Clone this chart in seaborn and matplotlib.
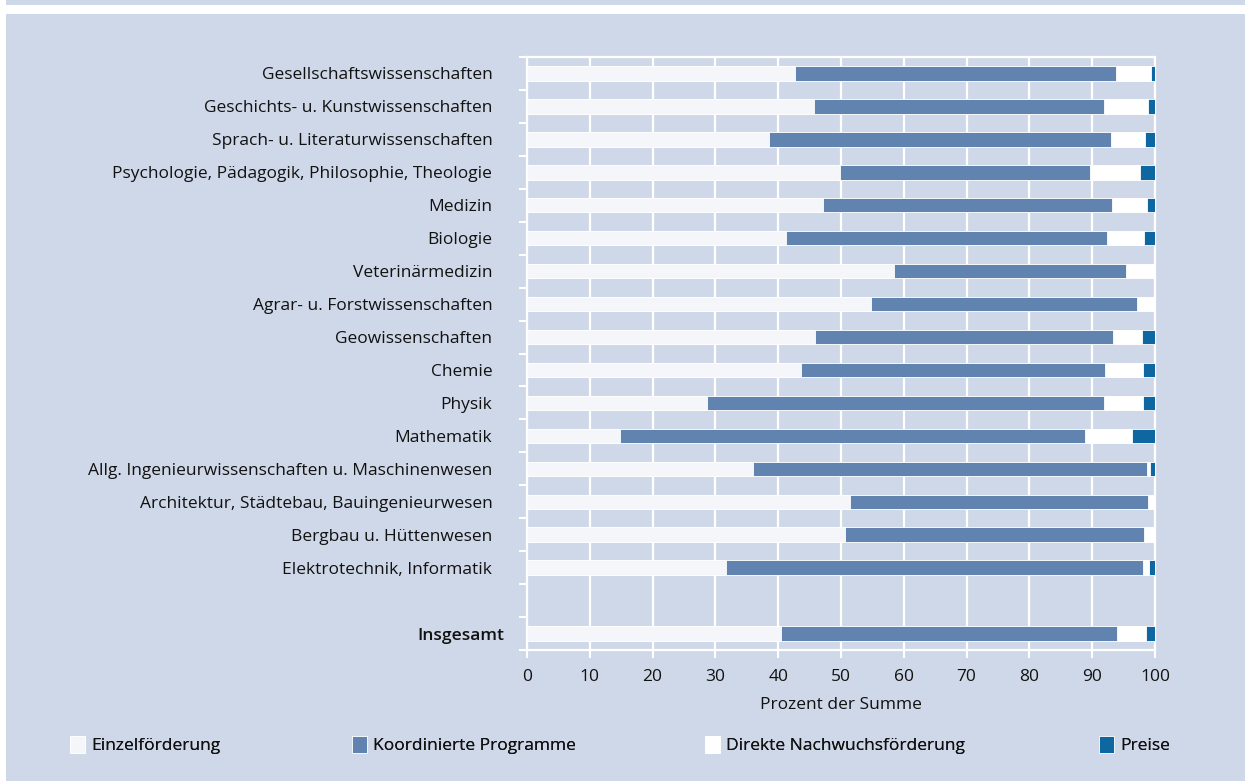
import numpy as np
import pandas as pd
import matplotlib
matplotlib.use("Agg")
import matplotlib.pyplot as plt
import matplotlib.transforms as mtransforms
import seaborn as sns
from matplotlib.patches import Rectangle, Patch

categories = [
    "Gesellschaftswissenschaften",
    "Geschichts- u. Kunstwissenschaften",
    "Sprach- u. Literaturwissenschaften",
    "Psychologie, Pädagogik, Philosophie, Theologie",
    "Medizin",
    "Biologie",
    "Veterinärmedizin",
    "Agrar- u. Forstwissenschaften",
    "Geowissenschaften",
    "Chemie",
    "Physik",
    "Mathematik",
    "Allg. Ingenieurwissenschaften u. Maschinenwesen",
    "Architektur, Städtebau, Bauingenieurwesen",
    "Bergbau u. Hüttenwesen",
    "Elektrotechnik, Informatik",
    "Insgesamt",
]
einzel = [42.7, 45.7, 38.6, 49.8, 47.1, 41.3, 58.4, 54.7, 45.9, 43.6, 28.6, 14.8, 36.0, 51.5, 50.6, 31.7, 40.5]
koord = [51.1, 46.1, 54.4, 39.9, 46.1, 51.0, 37.0, 42.5, 47.4, 48.4, 63.2, 74.1, 62.7, 47.4, 47.7, 66.4, 53.4]
preise = [0.7, 1.1, 1.6, 2.4, 1.2, 1.7, 0.0, 0.0, 2.1, 1.9, 1.9, 3.6, 0.8, 0.0, 0.0, 0.9, 1.4]
nachwuchs = [100 - e - k - p for e, k, p in zip(einzel, koord, preise)]
series_names = ["Einzelförderung", "Koordinierte Programme", "Direkte Nachwuchsförderung", "Preise"]
xticks = [0, 10, 20, 30, 40, 50, 60, 70, 80, 90, 100]

colors = ["#f5f6fa", "#6083af", "#ffffff", "#0e67a0"]
bg = "#cfd8e8"
txt = "#111111"
fs = 12.5

df = pd.DataFrame({"cat": categories, "E": einzel, "K": koord, "N": nachwuchs, "P": preise})
df["c1"] = df["E"]
df["c2"] = df["E"] + df["K"]
df["c3"] = df["c2"] + df["N"]
df["c4"] = df["c3"] + df["P"]

order = categories[:-1] + [" "] + categories[-1:]

sns.set_theme(style="white")
plt.rcParams["font.family"] = ["Open Sans", "DejaVu Sans"]

fig = plt.figure(figsize=(12.45, 7.81), dpi=100)
fig.patch.set_facecolor("white")
fig.patches.append(Rectangle((6 / 1245, 0), 1 - 6 / 1245, 1 - 14 / 781, transform=fig.transFigure,
                             facecolor=bg, edgecolor="none", zorder=-10))
fig.patches.append(Rectangle((6 / 1245, 1 - 5 / 781), 1 - 6 / 1245, 5 / 781, transform=fig.transFigure,
                             facecolor=bg, edgecolor="none", zorder=-10))

ax = fig.add_axes([527 / 1245, 1 - 650 / 781, (1155 - 527) / 1245, (650 - 57) / 781])
ax.set_facecolor(bg)

w = 0.44
for col, c in zip(["c4", "c3", "c2", "c1"], [colors[3], colors[2], colors[1], colors[0]]):
    sns.barplot(data=df, x=col, y="cat", order=order, color=c, width=w, ax=ax,
                saturation=1, edgecolor="white", linewidth=0.6, zorder=3)

ax.set_xlim(0, 100)
ax.set_ylim(len(order) - 0.5, -0.5)
ax.set_xticks(xticks)
ax.set_xticklabels([str(t) for t in xticks], fontsize=fs, color=txt)
ax.set_xlabel("Prozent der Summe", fontsize=fs, color=txt, labelpad=8)
ax.set_ylabel("")
ax.grid(axis="x", color="white", linewidth=1.6, zorder=0)
ax.set_axisbelow(True)

ax.set_yticks(range(len(order)))
ax.set_yticklabels(order, fontsize=fs, color=txt)
ax.tick_params(axis="y", which="major", length=0, pad=25)
ax.set_yticks(np.arange(-0.5, len(order), 1.0), minor=True)
ax.tick_params(axis="y", which="minor", length=6, width=1.5, color="white", left=True)
ax.tick_params(axis="x", which="major", length=6, width=1.5, color="white", bottom=True, pad=8)
for lbl in ax.get_yticklabels():
    if lbl.get_text() == "Insgesamt":
        lbl.set_fontweight("semibold")
        lbl.set_transform(lbl.get_transform() + mtransforms.ScaledTranslation(12 / 100, 0, fig.dpi_scale_trans))

for s in ax.spines.values():
    s.set_visible(True)
    s.set_color("white")
    s.set_linewidth(1.6)

# legend entries positioned individually
leg_x = [70, 352, 705, 1099]
for name, c, x in zip(series_names, colors, leg_x):
    h = Patch(facecolor=c, edgecolor="white", linewidth=0.6)
    leg = fig.legend(handles=[h], labels=[name], loc="center left",
                     bbox_to_anchor=(x / 1245, 1 - 745 / 781), frameon=False,
                     fontsize=fs, handlelength=0.85, handleheight=1.1, handletextpad=0.35,
                     borderaxespad=0, borderpad=0)
    for t in leg.get_texts():
        t.set_color(txt)
    fig.add_artist(leg)

fig.savefig("out.png", dpi=100, facecolor="white")
